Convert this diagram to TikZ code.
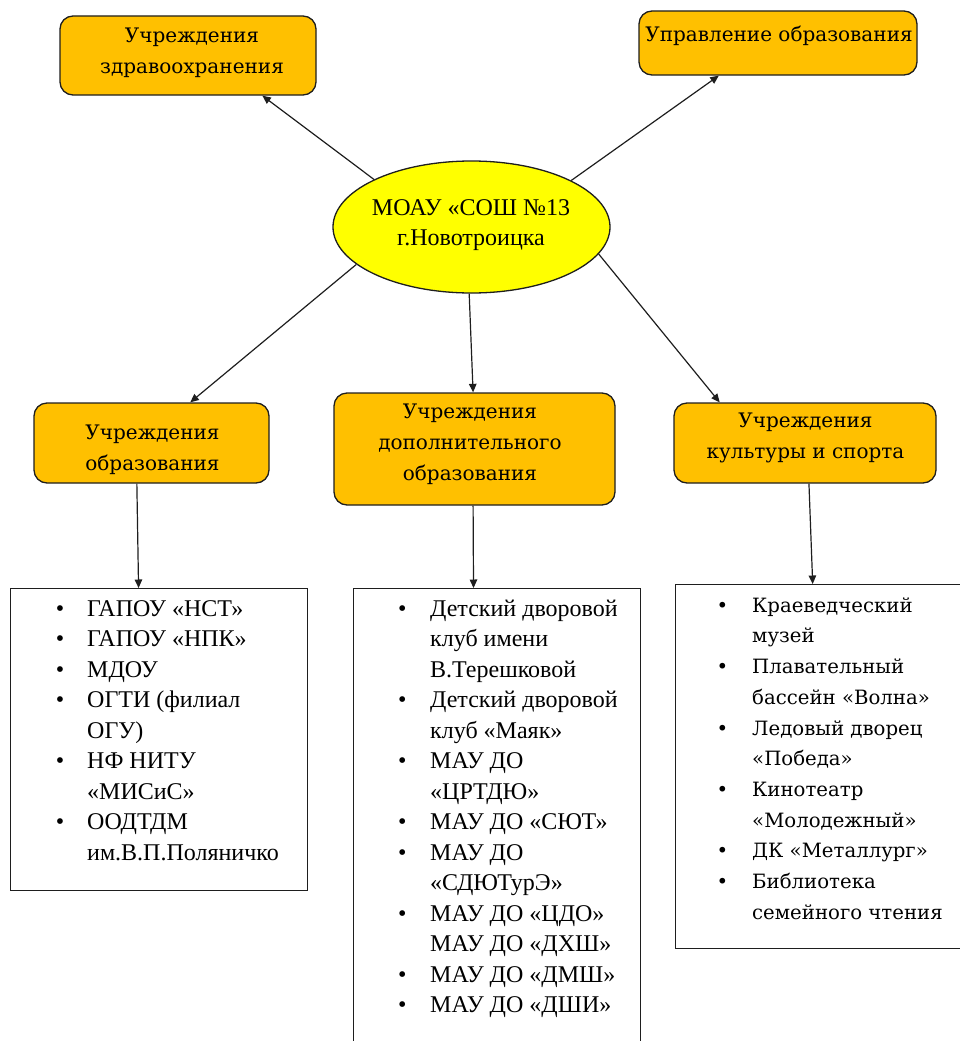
\documentclass[tikz,border=0pt]{standalone}
\usepackage{fontspec}
\setmainfont{Liberation Serif}
\newfontfamily\tmsfont{Liberation Serif}
\newfontfamily\cmbfont{DejaVu Serif}
\usetikzlibrary{arrows.meta,calc,shapes.geometric}
\definecolor{boxorange}{RGB}{255,192,0}
\definecolor{ellyellow}{RGB}{255,255,0}
\definecolor{edgecol}{RGB}{30,30,30}
\newcommand\lbul[1]{\llap{\textbullet\hspace{#1}}}
\tikzset{
  obox/.style={draw=edgecol, line width=1.3pt, fill=boxorange, rounded corners=13pt, rectangle, inner sep=0pt},
  otext/.style={align=center, inner sep=0pt, font=\cmbfont\fontsize{20}{31}\selectfont},
  listbox/.style={draw=edgecol, line width=1.3pt, rectangle, inner sep=0pt, anchor=north west},
  listtext/.style={align=left, inner sep=0pt, anchor=north west, font=\tmsfont\fontsize{24}{30.5}\selectfont},
  listtextc/.style={align=left, inner sep=0pt, anchor=north west, font=\cmbfont\fontsize{19.7}{30.7}\selectfont},
  arr/.style={draw=edgecol, line width=1.2pt, -{Triangle[length=8.5pt,width=7.5pt]}},
}
\begin{document}
\begin{tikzpicture}[x=1pt,y=-1pt]
\useasboundingbox (0,0) rectangle (960,1041);

% top boxes
\node[obox, minimum width=256pt, minimum height=79pt] (zdr) at (188,55.5) {};
\node[otext] (zdrt) at (192,52.5) {Учреждения\\здравоохранения};
\node[obox, minimum width=278pt, minimum height=64pt] (upr) at (778,43) {};
\node[otext] (uprt) at (779,36) {Управление образования};

% centre ellipse
\node[ellipse, draw=edgecol, line width=1.3pt, fill=ellyellow, minimum width=277pt, minimum height=132pt, inner sep=0pt] (sch) at (471.5,227) {};
\node[align=center, inner sep=0pt, font=\tmsfont\fontsize{24}{30}\selectfont] (scht) at (471,225) {МОАУ «СОШ №13\\г.Новотроицка};

% middle boxes
\node[obox, minimum width=235pt, minimum height=80pt] (obr) at (151.5,443) {};
\node[otext] (obrt) at (152.5,450) {Учреждения\\образования};
\node[obox, minimum width=281pt, minimum height=112pt] (dop) at (474.5,449) {};
\node[otext] (dopt) at (470,444) {Учреждения\\дополнительного\\образования};
\node[obox, minimum width=262pt, minimum height=80pt] (kul) at (805,443) {};
\node[otext] (kult) at (805.5,438) {Учреждения\\культуры и спорта};

% lists
\node[listbox, minimum width=297pt, minimum height=302pt] (la) at (10,588) {};
\node[listtext] (lat) at (87,594.6) {\strut\lbul{22.8pt}ГАПОУ «НСТ»\\
\lbul{22.8pt}ГАПОУ «НПК»\\
\lbul{22.8pt}МДОУ\\
\lbul{22.8pt}ОГТИ (филиал\\
ОГУ)\\
\lbul{22.8pt}НФ НИТУ\\
«МИСиС»\\
\lbul{22.8pt}ООДТДМ\\
им.В.П.Поляничко};

\node[listbox, minimum width=287pt, minimum height=470pt] (lb) at (353,588) {};
\node[listtext] (lbt) at (430,594.6) {\strut\lbul{23.8pt}Детский дворовой\\
клуб имени\\
В.Терешковой\\
\lbul{23.8pt}Детский дворовой\\
клуб «Маяк»\\
\lbul{23.8pt}МАУ ДО\\
«ЦРТДЮ»\\
\lbul{23.8pt}МАУ ДО «СЮТ»\\
\lbul{23.8pt}МАУ ДО\\
«СДЮТурЭ»\\
\lbul{23.8pt}МАУ ДО «ЦДО»\\
МАУ ДО «ДХШ»\\
\lbul{23.8pt}МАУ ДО «ДМШ»\\
\lbul{23.8pt}МАУ ДО «ДШИ»};

\node[listbox, minimum width=300pt, minimum height=364pt] (lc) at (675,584) {};
\node[listtextc] (lct) at (752,590.5) {\strut\lbul{24pt}Краеведческий\\
музей\\
\lbul{24pt}Плавательный\\
бассейн «Волна»\\
\lbul{24pt}Ледовый дворец\\
«Победа»\\
\lbul{24pt}Кинотеатр\\
«Молодежный»\\
\lbul{24pt}ДК «Металлург»\\
\lbul{24pt}Библиотека\\
семейного чтения};

% connectors
\draw[arr] (sch.154) -- ($(zdr.south west)!0.789!(zdr.south east)$);
\draw[arr] (sch.25) -- ($(upr.south west)!0.288!(upr.south east)$);
\draw[arr] (sch.198) -- ($(obr.north west)!0.664!(obr.north east)$);
\draw[arr] (sch.268) -- ($(dop.north west)!0.495!(dop.north east)$);
\draw[arr] (sch.348) -- ($(kul.north west)!0.176!(kul.north east)$);
\draw[arr] ($(obr.south west)!0.438!(obr.south east)$) -- ($(la.north west)!0.431!(la.north east)$);
\draw[arr] ($(dop.south west)!0.495!(dop.south east)$) -- ($(lb.north west)!0.418!(lb.north east)$);
\draw[arr] ($(kul.south west)!0.515!(kul.south east)$) -- ($(lc.north west)!0.457!(lc.north east)$);
\end{tikzpicture}
\end{document}
